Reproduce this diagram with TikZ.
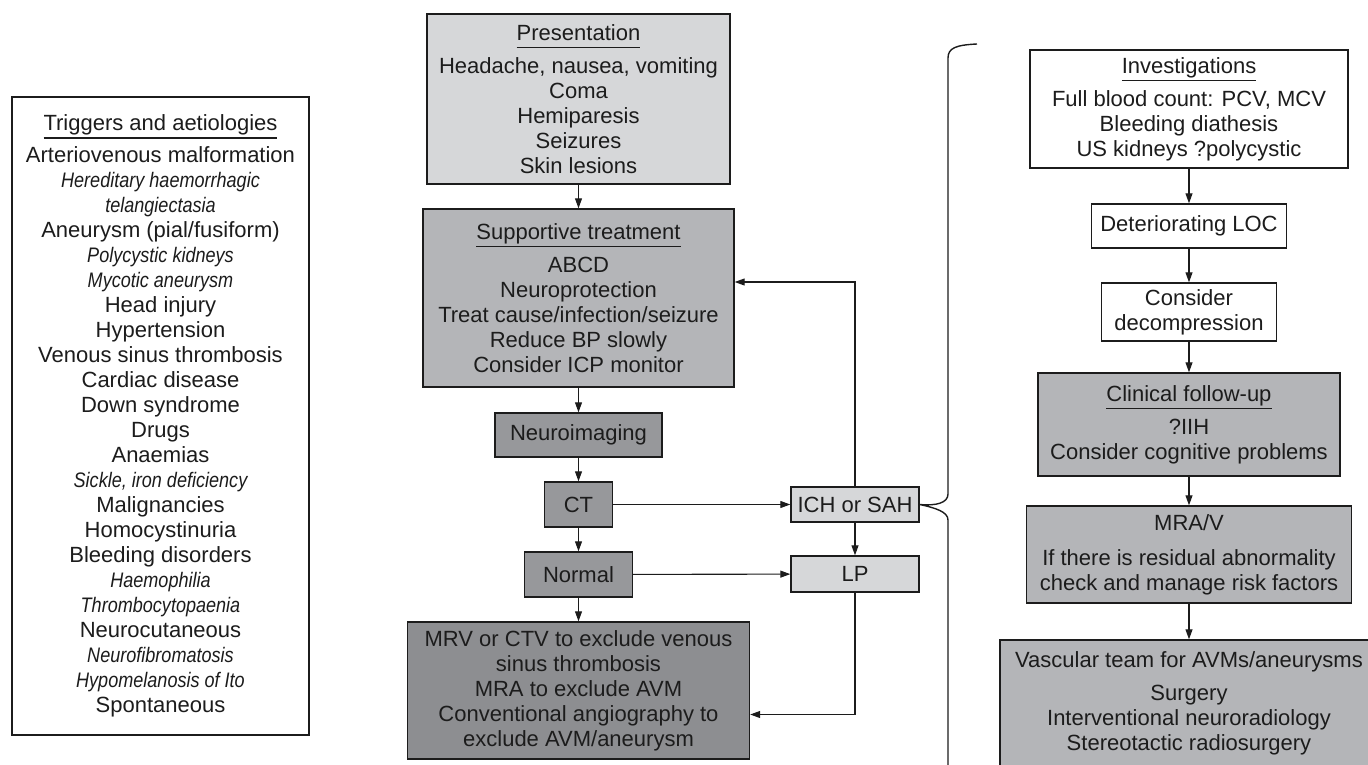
\documentclass[tikz,border=0pt]{standalone}
\usepackage{fontspec}
\setmainfont{Liberation Sans}
\usepackage{graphicx}
\usepackage{tikz}
\usetikzlibrary{arrows.meta,calc}
\definecolor{ink}{HTML}{1C1C1C}
\definecolor{silver}{HTML}{D6D7D9}
\definecolor{ash}{HTML}{B4B5B8}
\definecolor{slate}{HTML}{97989B}
\definecolor{smoke}{HTML}{8D8E91}
\newcommand{\boxtitle}[1]{\setbox0=\hbox{#1}\rlap{\rule[-8pt]{\wd0}{1.3pt}}\box0}
\newcommand{\aside}[1]{\scalebox{0.86}[1]{\fontsize{21}{25}\selectfont\itshape #1}}
\tikzset{
  box/.style={draw=ink, line width=1.4pt, align=center, inner sep=2pt, text=ink, font=\fontsize{22}{25}\selectfont},
  arr/.style={draw=ink, line width=1.1pt, -{Triangle[length=10pt,width=7pt]}}
}

\begin{document}
\begin{tikzpicture}[x=1pt,y=-1pt]
\useasboundingbox (0,0) rectangle (1368,765);

\node[box, fill=white, minimum width=297pt, minimum height=638pt] (causes) at (160.5,416) {
    \boxtitle{Triggers and aetiologies}\\[7pt]
    Arteriovenous malformation\\ \aside{Hereditary haemorrhagic}\\ \aside{telangiectasia}\\
    Aneurysm (pial/fusiform)\\ \aside{Polycystic kidneys}\\ \aside{Mycotic aneurysm}\\
    Head injury\\ Hypertension\\ Venous sinus thrombosis\\ Cardiac disease\\ Down syndrome\\
    Drugs\\ Anaemias\\ \aside{Sickle, iron deficiency}\\ Malignancies\\ Homocystinuria\\
    Bleeding disorders\\ \aside{Haemophilia}\\ \aside{Thrombocytopaenia}\\ Neurocutaneous\\
    \aside{Neurofibromatosis}\\ \aside{Hypomelanosis of Ito}\\ Spontaneous
};

% central column
\node[box, fill=silver, minimum width=303pt, minimum height=170pt] (pres) at (578.5,99) {
    \boxtitle{Presentation}\\[8pt]
    Headache, nausea, vomiting\\ Coma\\ Hemiparesis\\ Seizures\\ Skin lesions
};
\node[box, fill=ash, minimum width=311pt, minimum height=178pt] (supp) at (578.5,298) {
    \boxtitle{Supportive treatment}\\[8pt]
    ABCD\\ Neuroprotection\\ Treat cause/infection/seizure\\ Reduce BP slowly\\ Consider ICP monitor
};
\node[box, fill=slate, minimum width=167pt, minimum height=44pt] (neuro) at (578.5,435) {Neuroimaging};
\node[box, fill=slate, minimum width=68pt, minimum height=45pt] (ct) at (578.5,504.5) {CT};
\node[box, fill=slate, minimum width=108pt, minimum height=45pt] (normal) at (578.5,574.5) {Normal};
\node[box, fill=smoke, minimum width=342pt, minimum height=137pt] (mrv) at (578.5,690.5) {
    MRV or CTV to exclude venous\\ sinus thrombosis\\ MRA to exclude AVM\\
    Conventional angiography to\\ exclude AVM/aneurysm
};
\node[box, fill=silver, minimum width=128pt, minimum height=35pt] (ich) at (855,504.5) {ICH or SAH};
\node[box, fill=silver, minimum width=128pt, minimum height=36pt] (lp) at (855,574) {LP};

% right column
\node[box, fill=white, minimum width=318pt, minimum height=118pt] (inv) at (1189,109) {
    \boxtitle{Investigations}\\[8pt]
    Full blood count: PCV, MCV\\ Bleeding diathesis\\ US kidneys ?polycystic
};
\node[box, fill=white, minimum width=195pt, minimum height=44pt] (loc) at (1189,226) {Deteriorating LOC};
\node[box, fill=white, minimum width=175pt, minimum height=58pt] (decomp) at (1189,312) {Consider\\ decompression};
\node[box, fill=ash, minimum width=302pt, minimum height=103pt] (follow) at (1189,424.5) {
    \boxtitle{Clinical follow-up}\\[8pt]
    ?IIH\\ Consider cognitive problems
};
\node[box, fill=ash, minimum width=325pt, minimum height=97pt] (mra) at (1189,554.5) {
    MRA/V\\[10pt]
    If there is residual abnormality\\ check and manage risk factors
};
\node[box, fill=ash, minimum width=378pt, minimum height=126pt] (vasc) at (1189,703) {
    Vascular team for AVMs/aneurysms\\[8pt]
    Surgery\\ Interventional neuroradiology\\ Stereotactic radiosurgery
};

\draw[arr] (pres) -- (supp);
\draw[arr] (supp) -- (neuro);
\draw[arr] (neuro) -- (ct);
\draw[arr] (ct) -- (normal);
\draw[arr] (normal) -- (mrv);
\draw[arr] (ct) -- (ich);
\draw[arr] (normal) -- (lp);
\draw[arr] (ich) -- (lp);
\draw[arr] (ich.north) |- ($(supp.east)+(0,-16)$);
\draw[arr] (lp.south) |- ($(mrv.east)+(0,24)$);

\draw[arr] (inv) -- (loc);
\draw[arr] (loc) -- (decomp);
\draw[arr] (decomp) -- (follow);
\draw[arr] (follow) -- (mra);
\draw[arr] (mra) -- (vasc);

\draw[draw=ink, line width=1.4pt] (977,44) .. controls (956,45) and (948,48) .. (948,58) -- (948,494)
    .. controls (948,503) and (936,506) .. (ich.east) .. controls (936,508) and (948,512) .. (948,520) -- (948,780);
\end{tikzpicture}
\end{document}
